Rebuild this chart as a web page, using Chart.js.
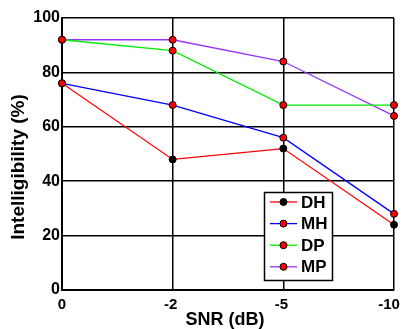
<!DOCTYPE html>
<html>
<head>
<meta charset="utf-8">
<script src="https://cdn.jsdelivr.net/npm/chart.js@4.4.1/dist/chart.umd.min.js"></script>
<style>
html,body{margin:0;padding:0;background:#fff;}
#wrap{width:403px;height:329px;position:relative;}
</style>
</head>
<body>
<div id="wrap"><canvas id="c" width="403" height="329"></canvas></div>
<script>
const categories = ['0', '-2', '-5', '-10'];
const seriesNames = ['DH', 'MH', 'DP', 'MP'];
const DH = [76, 48, 52, 24];
const MH = [76, 68, 56, 28];
const DP = [92, 88, 68, 68];
const MP = [92, 92, 84, 64];
const yTicks = [0, 20, 40, 60, 80, 100];
const xTitle = 'SNR (dB)';
const yTitle = 'Intelligibility (%)';

const lineColors = ['#ff0000', '#0000ff', '#00ee00', '#9933ff'];
const markerColors = ['#000000', '#ff0000', '#ff0000', '#ff0000'];
const values = [DH, MH, DP, MP];

const datasets = seriesNames.map((n, i) => ({
  label: n,
  data: values[i],
  borderColor: lineColors[i],
  backgroundColor: markerColors[i],
  pointBackgroundColor: markerColors[i],
  pointBorderColor: '#000',
  pointBorderWidth: 1,
  pointRadius: 3.5,
  borderWidth: 1.3,
  tension: 0,
  order: i === 0 ? 1 : 0
}));

const FONT = '"Liberation Sans", Arial, sans-serif';

const labelNudge = {
  id: 'labelNudge',
  beforeDraw(chart) {
    const s = chart.scales.x;
    const items = s.getLabelItems(chart.chartArea);
    items.forEach((it, i) => {
      if (i === 0) return;
      const dx = i === items.length - 1 ? -5 : -2;
      it.options.translation[0] += dx;
    });
  }
};

const overlay = {
  id: 'overlay',
  afterDraw(chart) {
    const ctx = chart.ctx;
    ctx.save();
    ctx.fillStyle = '#000';
    ctx.textAlign = 'center';
    ctx.textBaseline = 'middle';
    ctx.font = 'bold 19px ' + FONT;
    ctx.save();
    ctx.translate(19, 167);
    ctx.rotate(-Math.PI / 2);
    ctx.fillText(yTitle, 0, 0);
    ctx.restore();
    ctx.font = 'bold 18px ' + FONT;
    ctx.fillText(xTitle, 225, 320);

    const bx = 264.5, by = 192.5, bw = 68, bh = 88;
    ctx.fillStyle = '#fff';
    ctx.fillRect(bx, by, bw, bh);
    ctx.strokeStyle = '#000';
    ctx.lineWidth = 1.5;
    ctx.strokeRect(bx, by, bw, bh);
    chart.data.datasets.forEach((ds, i) => {
      const y = 202 + i * 21.6;
      ctx.strokeStyle = ds.borderColor;
      ctx.lineWidth = 1.3;
      ctx.beginPath();
      ctx.moveTo(270, y);
      ctx.lineTo(297, y);
      ctx.stroke();
      ctx.beginPath();
      ctx.arc(283.5, y, 3.5, 0, Math.PI * 2);
      ctx.fillStyle = ds.pointBackgroundColor;
      ctx.fill();
      ctx.strokeStyle = '#000';
      ctx.lineWidth = 1;
      ctx.stroke();
      ctx.fillStyle = '#000';
      ctx.textAlign = 'left';
      ctx.textBaseline = 'middle';
      ctx.font = 'bold 17px ' + FONT;
      ctx.fillText(ds.label, 301, y + 1);
    });
    ctx.restore();
  }
};

new Chart(document.getElementById('c'), {
  type: 'line',
  data: { labels: categories, datasets },
  options: {
    responsive: false,
    animation: false,
    devicePixelRatio: 1,
    layout: { padding: { top: 18, right: 9, left: 0, bottom: 0 } },
    plugins: { legend: { display: false }, tooltip: { enabled: false } },
    scales: {
      x: {
        type: 'category',
        offset: false,
        grid: { color: '#000', lineWidth: 1.5, drawTicks: false },
        border: { color: '#000', width: 2 },
        ticks: { color: '#000', font: { family: FONT, size: 15, weight: 'bold' }, padding: 6, maxRotation: 0, autoSkip: false },
        afterFit(scale) { scale.height = 39; scale.paddingRight = 0; scale.paddingLeft = 0; }
      },
      y: {
        min: 0, max: 100,
        afterBuildTicks(scale) { scale.ticks = yTicks.map(v => ({ value: v })); },
        grid: { color: '#000', lineWidth: 1.5, drawTicks: false },
        border: { color: '#000', width: 2 },
        ticks: { color: '#000', font: { family: FONT, size: 16, weight: 'bold' }, padding: 2 },
        afterFit(scale) { scale.width = 62; }
      }
    }
  },
  plugins: [labelNudge, overlay]
});
</script>
</body>
</html>
